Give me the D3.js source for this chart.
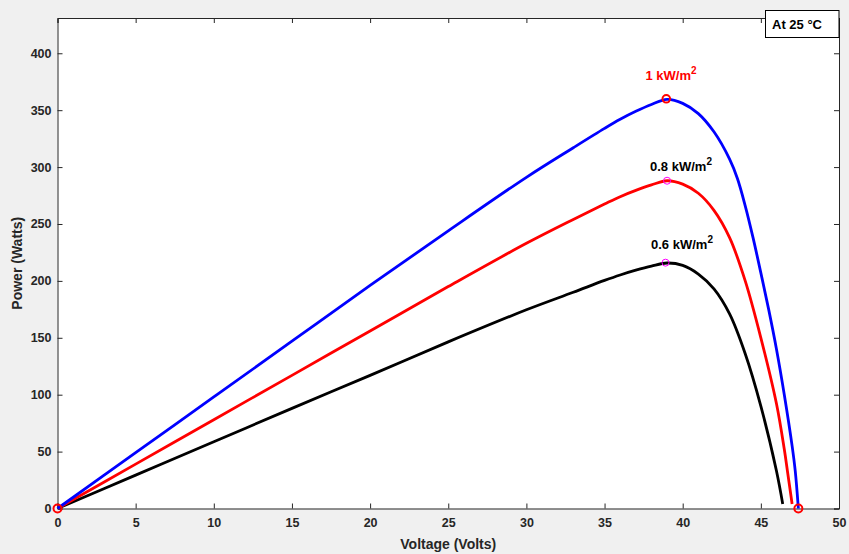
<!DOCTYPE html>
<html><head><meta charset="utf-8">
<script src="https://cdn.jsdelivr.net/npm/d3@7"></script>
<style>body{margin:0;background:#f0f0f0;}svg{display:block;font-family:"Liberation Sans",Arial,sans-serif;}</style>
</head><body>
<script>
// Data
const volts1 = [0,5,10,15,20,25,30,33,35,36,37,38,39,40,41,42,43,43.5,44,44.5,45,45.5,46,46.5,47,47.2,47.4];
const power1 = [0,49,98,147,196,244,291,317,334,342,349,355,359.5,356,347,331,307,290,266,238,207,175,140,100,55,33,0];
const volts08 = [0,5,10,15,20,25,30,33,35,36,37,38,39,40,41,42,43,44,45,46,46.5,46.7,47];
const power08 = [0,39,78,117,156,195,233,254,267.5,274,279.5,284.3,288,285,277,262,238,200,150,92,52,33,4];
const volts06 = [0,5,10,15,20,25,30,33,35,36,37,38,39,40,41,42,43,44,45,46,46.4];
const power06 = [0,29.3,58.6,88,117,146.4,174.6,190,200.4,205.2,209.4,213,215.7,213.6,206,193,171,136,90,33,4];
const mppV = [38.95, 39.0, 38.9];
const mppP = [360, 288, 216];
const labels = ["1 kW/m", "0.8 kW/m", "0.6 kW/m"];
const xTicks = [0,5,10,15,20,25,30,35,40,45,50];
const yTicks = [0,50,100,150,200,250,300,350,400];

const W = 849, H = 554;
const L = 57.5, R = 839, T = 18, B = 508.5;
const svg = d3.select("body").append("svg").attr("width", W).attr("height", H);
svg.append("rect").attr("width", W).attr("height", H).attr("fill", "#f0f0f0");

const x = d3.scaleLinear().domain([0, 50]).range([L, R]);
const y = d3.scaleLinear().domain([0, 431]).range([B, T]);

svg.append("rect").attr("x", L).attr("y", T).attr("width", R - L).attr("height", B - T).attr("fill", "#fff");

const axColor = "#262626";
const tickFont = "bold 12.5px 'Liberation Sans', Arial, sans-serif";

const gx = svg.append("g").attr("transform", `translate(0,${B})`)
  .call(d3.axisBottom(x).tickValues(xTicks).tickSize(-5).tickPadding(10).tickFormat(d3.format("d")));
const gxt = svg.append("g").attr("transform", `translate(0,${T})`)
  .call(d3.axisTop(x).tickValues(xTicks).tickSize(-5).tickFormat(""));
const gy = svg.append("g").attr("transform", `translate(${L},0)`)
  .call(d3.axisLeft(y).tickValues(yTicks).tickSize(-5).tickPadding(6).tickFormat(d3.format("d")));
const gyr = svg.append("g").attr("transform", `translate(${R},0)`)
  .call(d3.axisRight(y).tickValues(yTicks).tickSize(-5).tickFormat(""));
[gx, gxt, gy, gyr].forEach(g => {
  g.selectAll("path").attr("stroke", axColor).attr("stroke-width", 1);
  g.selectAll("line").attr("stroke", axColor);
  g.selectAll("text").attr("fill", axColor).style("font", tickFont);
});

const line = d3.line().x(d => x(d[0])).y(d => y(d[1])).curve(d3.curveCatmullRom.alpha(0.5));
const series = [
  {v: volts1, p: power1, c: "#0000ff"},
  {v: volts08, p: power08, c: "#ff0000"},
  {v: volts06, p: power06, c: "#000000"}
];
series.slice().reverse().forEach(s => {
  svg.append("path").datum(d3.zip(s.v, s.p)).attr("d", line)
    .attr("fill", "none").attr("stroke", s.c).attr("stroke-width", 2.8)
    .attr("stroke-linejoin", "round");
});

// Markers
svg.append("circle").attr("cx", x(0)).attr("cy", y(0)).attr("r", 4).attr("fill", "none").attr("stroke", "#ff0000").attr("stroke-width", 2);
svg.append("circle").attr("cx", x(volts1[volts1.length-1])).attr("cy", y(0)).attr("r", 4).attr("fill", "none").attr("stroke", "#ff0000").attr("stroke-width", 2);
svg.append("circle").attr("cx", x(mppV[0])).attr("cy", y(mppP[0])).attr("r", 3.8).attr("fill", "none").attr("stroke", "#ff0000").attr("stroke-width", 2);
[1, 2].forEach(i => {
  svg.append("circle").attr("cx", x(mppV[i])).attr("cy", y(mppP[i])).attr("r", 3.5).attr("fill", "none").attr("stroke", "#ff00ff").attr("stroke-width", 1);
});

// Peak labels
const labColors = ["#ff0000", "#000000", "#000000"];
const labY = [80, 171, 249];
const labX = [671, 681, 682];
labels.forEach((t, i) => {
  const tx = svg.append("text").attr("x", labX[i]).attr("y", labY[i]).attr("text-anchor", "middle")
    .attr("fill", labColors[i]).style("font", "bold 13px 'Liberation Sans', Arial, sans-serif");
  tx.append("tspan").text(t);
  tx.append("tspan").attr("dy", -6).style("font-size", "10px").text("2");
});

// Axis labels
svg.append("text").attr("x", (L + R) / 2).attr("y", 549).attr("text-anchor", "middle")
  .attr("fill", axColor).style("font", "bold 14px 'Liberation Sans', Arial, sans-serif").text("Voltage (Volts)");
svg.append("text").attr("transform", `translate(22,${(T + B) / 2}) rotate(-90)`).attr("text-anchor", "middle")
  .attr("fill", axColor).style("font", "bold 14px 'Liberation Sans', Arial, sans-serif").text("Power (Watts)");

// Annotation box
svg.append("rect").attr("x", 765.5).attr("y", 10.5).attr("width", 73.5).attr("height", 27).attr("fill", "#fff").attr("stroke", "#000").attr("stroke-width", 1);
svg.append("text").attr("x", 797).attr("y", 29).attr("text-anchor", "middle").attr("fill", "#000")
  .style("font", "bold 13px 'Liberation Sans', Arial, sans-serif").text("At 25 °C");
</script>
</body></html>
